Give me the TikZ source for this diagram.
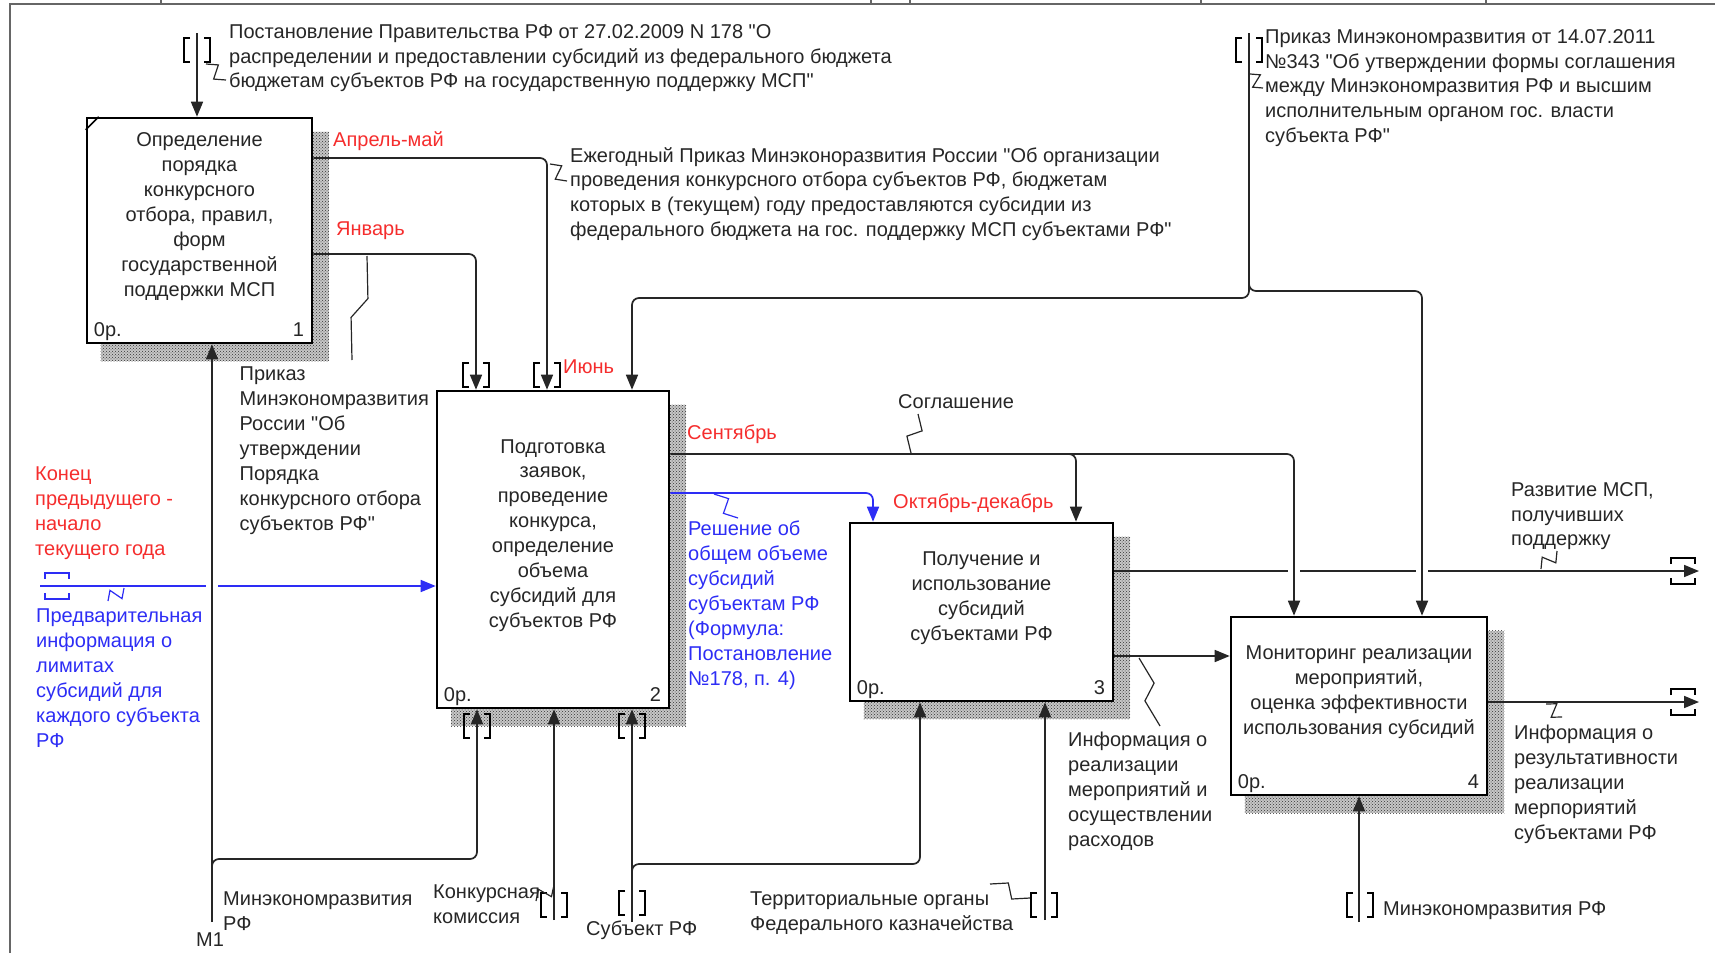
\documentclass[tikz,border=0pt]{standalone}
\usepackage{fontspec}
\setmainfont{Liberation Sans}[Ligatures=TeXOff]
\usetikzlibrary{arrows.meta, positioning, calc, patterns, backgrounds}
\definecolor{idefred}{RGB}{245,45,45}
\definecolor{idefblue}{RGB}{45,45,245}
\tikzset{
    func/.style={rectangle, draw=black, line width=2.6pt, fill=white, inner sep=0pt, align=center, text=black!85},
    hatch/.style={fill=black!22, postaction={pattern=crosshatch dots, pattern color=black!80}},
    line/.style={line width=1.7pt, draw=black!85, rounded corners=7pt},
    arrow/.style={line, -{Triangle[length=15pt, width=12pt]}},
    blueline/.style={line, draw=idefblue},
    bluearrow/.style={arrow, draw=idefblue},
    note/.style={anchor=north west, inner sep=0pt, align=left, text=black!85},
    rednote/.style={note, text=idefred},
    bluenote/.style={note, text=idefblue},
    squig/.style={line width=1.2pt, draw=black!85, to path={-- ($(\tikztostart)!0.4!(\tikztotarget)!7pt!90:(\tikztotarget)$) -- ($(\tikztostart)!0.6!(\tikztotarget)!7pt!-90:(\tikztotarget)$) -- (\tikztotarget)}},
    frameline/.style={line width=2pt, draw=black!60},
    tunv/.pic={\draw[line width=1.3pt] (-7,-12) -- (-13,-12) -- (-13,12) -- (-7,12) (7,-12) -- (13,-12) -- (13,12) -- (7,12);},
}

\begin{document}
\begin{tikzpicture}[x=1pt, y=-1pt, font=\fontsize{20}{24.9}\selectfont]
    \useasboundingbox (0,0) rectangle (1715,953);

    % frame
    \draw[frameline] (10,953) -- (10,4) -- (1715,4);
    \foreach \x in {161,871,910,1201,1486} \draw[frameline] (\x,0) -- (\x,4);

    % functions
    \node[func, minimum width=225pt, minimum height=225pt] (b1) at (199.5,230.5) {Определение\\порядка\\конкурсного\\отбора, правил,\\форм\\государственной\\поддержки МСП\\\strut};
    \node[func, minimum width=232pt, minimum height=317pt] (b2) at (553,549.5) {Подготовка\\заявок,\\проведение\\конкурса,\\определение\\объема\\субсидий для\\субъектов РФ\\\strut};
    \node[func, minimum width=263pt, minimum height=178pt] (b3) at (981.5,612) {Получение и\\использование\\субсидий\\субъектами РФ\\\strut};
    \node[func, minimum width=256pt, minimum height=178pt] (b4) at (1359,706) {Мониторинг реализации\\мероприятий,\\оценка эффективности\\использования субсидий\\\strut};
    \draw[line width=1.6pt] ($(b1.north west)+(0,13)$) -- ($(b1.north west)+(13,0)$);
    \foreach \b/\n in {b1/1,b2/2,b3/3,b4/4} {
        \node[anchor=base west, inner sep=0pt, text=black!85] (op\n) at ($(\b.south west)+(8,-8)$) {0р.};
        \node[anchor=base east, inner sep=0pt, text=black!85] (no\n) at ($(\b.south east)+(-9,-8)$) {\n};
    }
    \begin{scope}[on background layer]
        \foreach \b in {b1,b2,b3,b4}
            \path[hatch] ($(\b.north west)+(15,15)$) rectangle ($(\b.south east)+(16,17)$);
    \end{scope}

    % coordinates
    \coordinate (c0) at (197,33);
    \coordinate (apr) at (547,158);
    \coordinate (jan) at (476,254);
    \coordinate (ord) at (1249,33);
    \coordinate (ordj) at (1249,275);
    \coordinate (jun) at (632,298);
    \coordinate (agr) at (1422,291);
    \coordinate (lim) at (40,586);
    \coordinate (limg) at (206,586);
    \coordinate (limh) at (218,586);
    \coordinate (m1) at (212,922);
    \coordinate (m1j) at (212,872);
    \coordinate (m1b) at (477,859);
    \coordinate (kom) at (554,920);
    \coordinate (sub) at (632,922);
    \coordinate (subj) at (632,876);
    \coordinate (subb) at (920,864);
    \coordinate (kaz) at (1045,920);
    \coordinate (sep) at (1294,454);
    \coordinate (sepa) at (1066,454);
    \coordinate (sepb) at (1076,454);
    \coordinate (dec) at (873,493);
    \coordinate (out1) at (1699,571);
    \coordinate (g1a) at (1288,571);
    \coordinate (g1b) at (1300,571);
    \coordinate (g2a) at (1416,571);
    \coordinate (g2b) at (1428,571);
    \coordinate (rep) at (1138,656);
    \coordinate (out2) at (1699,702);
    \coordinate (mer) at (1359,922);

    % connectors
    \draw[arrow] (c0) -- (b1.north -| c0);
    \draw[arrow] (b1.east |- apr) -| (b2.north -| apr);
    \draw[arrow] (b1.east |- jan) -| (b2.north -| jan);
    \draw[arrow] (ord) |- (jun) -- (b2.north -| jun);
    \draw[arrow] (ordj) |- (agr) -- (b4.north -| agr);
    \draw[blueline] (lim) -- (limg);
    \draw[bluearrow] (limh) -- (b2.west |- lim);
    \draw[arrow] (m1) -- (b1.south -| m1);
    \draw[arrow] (m1j) |- (m1b) -- (b2.south -| m1b);
    \draw[arrow] (kom) -- (b2.south -| kom);
    \draw[arrow] (sub) -- (b2.south -| sub);
    \draw[arrow] (subj) |- (subb) -- (b3.south -| subb);
    \draw[arrow] (kaz) -- (b3.south -| kaz);
    \draw[arrow] (b2.east |- sep) -| (b4.north -| sep);
    \draw[arrow] (sepa) -| (b3.north -| sepb);
    \draw[bluearrow] (b2.east |- dec) -| (b3.north -| dec);
    \draw[line] (b3.east |- out1) -- (g1a);
    \draw[line] (g1b) -- (g2a);
    \draw[arrow] (g2b) -- (out1);
    \draw[arrow] (b3.east |- rep) -- (b4.west |- rep);
    \draw[arrow] (b4.east |- out2) -- (out2);
    \draw[arrow] (mer) -- (b4.south -| mer);

    % tunnels
    \pic at (197,50) {tunv};
    \pic at (547,375) {tunv};
    \pic at (476,375) {tunv};
    \pic at (1249,50) {tunv};
    \pic at (477,726) {tunv};
    \pic at (632,726) {tunv};
    \pic at (554,905) {tunv};
    \pic at (632,903) {tunv};
    \pic at (1044,905) {tunv};
    \pic at (1360,905) {tunv};
    \pic[rotate=90, color=idefblue] at (57,586) {tunv};
    \pic[rotate=90] at (1683,571) {tunv};
    \pic[rotate=90] at (1683,702) {tunv};

    % labels
    \node[note] (n0) at (229,24) {Постановление Правительства РФ от 27.02.2009 N 178 "О\\распределении и предоставлении субсидий из федерального бюджета\\бюджетам субъектов РФ на государственную поддержку МСП"};
    \node[rednote] (lapr) at (333,131) {Апрель-май};
    \node[note] (n1) at (570,147) {Ежегодный Приказ Минэконоразвития России "Об организации\\проведения конкурсного отбора субъектов РФ, бюджетам\\которых в (текущем) году предоставляются субсидии из\\федерального бюджета на гос. поддержку МСП субъектами РФ"};
    \node[rednote] (ljan) at (336,222) {Январь};
    \node[note] (n2) at (239.5,367) {Приказ\\Минэкономразвития\\России "Об\\утверждении\\Порядка\\конкурсного отбора\\субъектов РФ"};
    \node[note] (n3) at (1265,29) {Приказ Минэкономразвития от 14.07.2011\\№343 "Об утверждении формы соглашения\\между Минэкономразвития РФ и высшим\\исполнительным органом гос. власти\\субъекта РФ"};
    \node[rednote] (ljun) at (563,360) {Июнь};
    \node[rednote] (n4) at (35,467) {Конец\\предыдущего -\\начало\\текущего года};
    \node[bluenote] (n5) at (36,609) {Предварительная\\информация о\\лимитах\\субсидий для\\каждого субъекта\\РФ};
    \node[anchor=west, inner sep=0pt, text=black!85] (lm1) at (196,940) {M1};
    \node[note] (n6) at (223,892) {Минэкономразвития\\РФ};
    \node[note] (n7) at (433,885) {Конкурсная\\комиссия};
    \node[anchor=west, inner sep=0pt, text=black!85] (n8) at (586,930) {Субъект РФ};
    \node[note] (n9) at (750,892) {Территориальные органы\\Федерального казначейства};
    \node[rednote] (lsep) at (687,425) {Сентябрь};
    \node[note] (n10) at (898,394) {Соглашение};
    \node[bluenote] (n11) at (688,521) {Решение об\\общем объеме\\субсидий\\субъектам РФ\\(Формула:\\Постановление\\№178, п. 4)};
    \node[rednote] (ldec) at (893,494) {Октябрь-декабрь};
    \node[note] (n12) at (1511,482) {Развитие МСП,\\получивших\\поддержку};
    \node[note] (n13) at (1068,732) {Информация о\\реализации\\мероприятий и\\осуществлении\\расходов};
    \node[note] (n14) at (1514,725) {Информация о\\результативности\\реализации\\мерпориятий\\субъектами РФ};
    \node[anchor=west, inner sep=0pt, text=black!85] (n15) at (1383,911) {Минэкономразвития РФ};

    % squiggles
    \coordinate (s0a) at (206,64);   \coordinate (s0b) at (226,80);
    \coordinate (s1a) at (550,164);  \coordinate (s1b) at (567,181);
    \coordinate (s2a) at (367,256);  \coordinate (s2b) at (352,360);
    \coordinate (s3a) at (1250,74);  \coordinate (s3b) at (1263,88);
    \coordinate (s4a) at (124,588);  \coordinate (s4b) at (108,601);
    \coordinate (s5a) at (536,901);  \coordinate (s5b) at (554,885);
    \coordinate (s6a) at (990,884);  \coordinate (s6b) at (1030,898);
    \coordinate (s7a) at (918,414);  \coordinate (s7b) at (911,453);
    \coordinate (s8a) at (714,494);  \coordinate (s8b) at (738,518);
    \coordinate (s9a) at (1541,569); \coordinate (s9b) at (1557,551);
    \coordinate (s10a) at (1139,658); \coordinate (s10b) at (1160,726);
    \coordinate (s11a) at (1546,704); \coordinate (s11b) at (1562,717);
    \foreach \s in {0,1,2,3,5,6,7,9,10,11} \draw[squig] (s\s a) to (s\s b);
    \draw[squig, draw=idefblue] (s4a) to (s4b);
    \draw[squig, draw=idefblue] (s8a) to (s8b);
\end{tikzpicture}
\end{document}
